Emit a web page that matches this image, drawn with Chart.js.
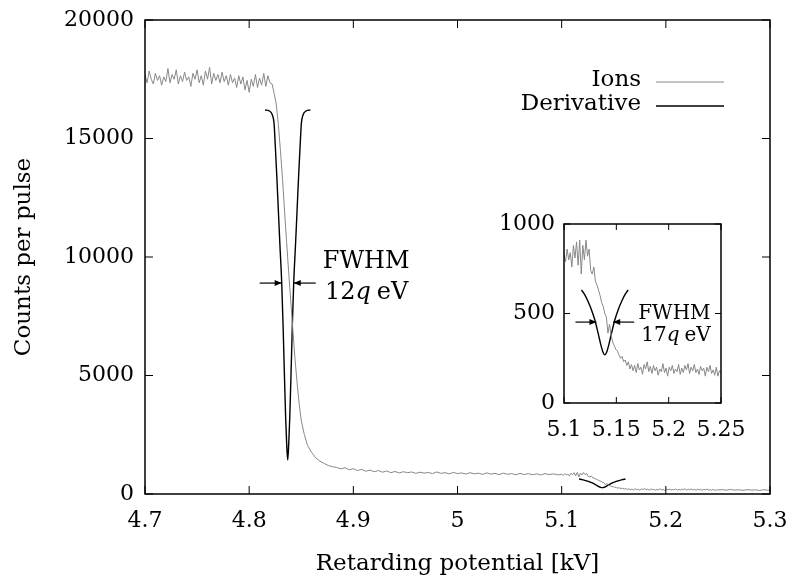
<!DOCTYPE html>
<html><head><meta charset="utf-8">
<script src="https://cdn.jsdelivr.net/npm/chart.js@4.4.1/dist/chart.umd.min.js"></script>
<style>
html,body{margin:0;padding:0;background:#fff;}
#wrap{position:relative;width:793px;height:578px;overflow:hidden;}
#main{position:absolute;left:0;top:0;}
#inset{position:absolute;left:471px;top:204px;}
</style></head><body>
<div id="wrap"><canvas id="main" width="793" height="578"></canvas><canvas id="inset" width="300" height="245"></canvas></div>
<script>
const FONT = "'DejaVu Serif', serif";

// ---- tick labels ----
const xTicksMain = [4.7, 4.8, 4.9, 5, 5.1, 5.2, 5.3];
const yTicksMain = [0, 5000, 10000, 15000, 20000];
const xTicksInset = [5.1, 5.15, 5.2, 5.25];
const yTicksInset = [0, 500, 1000];

// ---- Ions (retarding potential kV, counts per pulse) ----
const ionsKV = [
4.700,4.702,4.704,4.706,4.708,4.710,4.712,4.714,4.716,4.718,4.720,4.722,4.724,4.726,4.728,4.730,4.732,4.734,4.736,4.738,
4.740,4.742,4.744,4.746,4.748,4.750,4.752,4.754,4.756,4.758,4.760,4.762,4.764,4.766,4.768,4.770,4.772,4.774,4.776,4.778,
4.780,4.782,4.784,4.786,4.788,4.790,4.792,4.794,4.796,4.798,4.800,4.802,4.804,4.806,4.808,4.810,4.812,4.814,4.816,4.818,
4.820,4.822,
4.824,4.826,4.828,4.830,4.832,4.834,4.836,4.838,4.840,4.842,4.844,4.846,4.848,4.850,4.853,4.856,4.860,4.864,4.868,4.872,
4.876,4.880,
4.884,4.888,4.892,4.896,4.900,4.904,4.908,4.912,4.916,4.920,4.924,4.928,4.932,4.936,4.940,4.944,4.948,4.952,4.956,4.960,
4.964,4.968,4.972,4.976,4.980,4.984,4.988,4.992,4.996,5.000,5.004,5.008,5.012,5.016,5.020,5.024,5.028,5.032,5.036,5.040,
5.044,5.048,5.052,5.056,5.060,5.064,5.068,5.072,5.076,5.080,5.084,5.088,5.092,5.096,
5.1000,5.1015,5.1030,5.1045,5.1060,5.1075,5.1090,5.1105,5.1120,5.1135,5.1150,5.1165,5.1180,5.1195,5.1210,5.1225,5.1240,5.1255,5.1270,5.1285,
5.1300,5.1315,5.1330,5.1345,5.1360,5.1375,5.1390,5.1405,5.1420,5.1435,5.1450,5.1465,5.1480,5.1495,5.1510,5.1525,5.1540,5.1555,5.1570,5.1585,
5.1600,5.1615,5.1630,5.1645,5.1660,5.1675,5.1690,5.1705,5.1720,5.1735,5.1750,5.1765,5.1780,5.1795,5.1810,5.1825,5.1840,5.1855,5.1870,5.1885,
5.1900,5.1915,5.1930,5.1945,5.1960,5.1975,5.1990,5.2005,5.2020,5.2035,5.2050,5.2065,5.2080,5.2095,5.2110,5.2125,5.2140,5.2155,5.2170,5.2185,
5.2200,5.2215,5.2230,5.2245,5.2260,5.2275,5.2290,5.2305,5.2320,5.2335,5.2350,5.2365,5.2380,5.2395,5.2410,5.2425,5.2440,5.2455,5.2470,5.2485,
5.2500,
5.254,5.258,5.262,5.266,5.270,5.274,5.278,5.282,5.286,5.290,5.294,5.298,5.300
];
const ionsCounts = [
17700,17350,17850,17500,17300,17750,17450,17650,17250,17600,17400,17950,17350,17700,17500,17900,17300,17650,17400,17800,
17450,17600,17200,17750,17500,17900,17350,17650,17250,17850,17500,18000,17300,17750,17450,17700,17350,17800,17400,17650,
17250,17700,17350,17550,17150,17650,17300,17600,17050,17450,16950,17500,17200,17700,17150,17550,17250,17750,17200,17650,
17350,17300,
16900,16450,15600,14500,13300,11900,10600,9300,8100,6900,5700,4700,3800,3100,2500,2050,1750,1520,1380,1290,
1200,1150,
1120,1060,1110,1020,1070,990,1040,960,1010,940,990,920,970,900,950,890,940,900,930,870,
920,880,910,860,930,870,900,850,910,860,890,840,900,850,880,830,890,840,870,820,
880,830,860,810,870,820,860,810,850,800,860,820,850,810,
830,790,860,800,840,760,880,810,900,770,910,720,880,800,910,820,860,740,720,760,
680,660,630,600,560,540,500,480,390,440,380,340,320,300,290,270,250,260,230,240,
210,230,190,215,180,210,170,220,185,200,160,215,190,230,175,205,165,210,180,200,
155,190,175,220,170,195,150,200,180,210,165,190,175,215,160,195,170,210,185,220,
165,200,180,215,170,190,160,205,180,195,150,200,175,210,165,185,155,200,150,180,
165,
185,160,190,165,180,155,185,165,175,150,180,160,170
];

// ---- Derivative (main dip) ----
const derivKV = [4.8152,4.8194,4.8223,4.8239,4.8248,4.8264,4.8280,4.8296,4.8312,4.8325,4.8338,4.8350,4.8360,4.8370,
                 4.8380,4.8390,4.8402,4.8415,4.8428,4.8444,4.8460,4.8476,4.8492,4.8501,4.8517,4.8546,4.8588];
const derivVal = [16202,16160,15991,15640,14936,13530,11983,10435,8959,7201,5091,3262,2137,1434,
                  2137,3262,5091,7201,8959,10435,11983,13530,14936,15640,15991,16160,16202];
// ---- Derivative (second, small dip) ----
const deriv2KV = [5.1167,5.1199,5.1230,5.1263,5.1294,5.1326,5.1352,5.1374,5.1390,5.1406,5.1428,5.1454,5.1486,5.1517,5.1550,5.1581,5.1613];
const deriv2Val = [632,604,567,520,465,390,325,282,269,282,325,390,465,520,567,604,632];

// ---- FWHM annotations (data coordinates) ----
const fwhmMain = {left: 4.8312, right: 4.8428, level: 8900, line1: 'FWHM', pre: '12', q: 'q', post: '\u2009eV'};
const fwhmInset = {left: 5.131, right: 5.147, level: 452, line1: 'FWHM', pre: '17', q: 'q', post: '\u2009eV'};

const toPts = (xs, ys) => xs.map((x, i) => ({x: x, y: ys[i]}));
const GRAY = '#888888';

function frameTicks(xt, yt, len, lw) {
  return {
    id: 'frameTicks',
    afterDatasetsDraw(chart) {
      const {ctx, chartArea: a, scales: {x, y}} = chart;
      ctx.save();
      ctx.strokeStyle = '#000';
      ctx.lineWidth = 1;
      ctx.beginPath();
      xt.forEach(v => { const p = x.getPixelForValue(v);
        ctx.moveTo(p, a.bottom); ctx.lineTo(p, a.bottom - len);
        ctx.moveTo(p, a.top); ctx.lineTo(p, a.top + len); });
      yt.forEach(v => { const p = y.getPixelForValue(v);
        ctx.moveTo(a.left, p); ctx.lineTo(a.left + len, p);
        ctx.moveTo(a.right, p); ctx.lineTo(a.right - len, p); });
      ctx.stroke();
      ctx.lineWidth = lw;
      ctx.strokeRect(a.left, a.top, a.right - a.left, a.bottom - a.top);
      ctx.restore();
    }
  };
}

function arrow(ctx, fromX, toX, y) {
  ctx.beginPath(); ctx.moveTo(fromX, y); ctx.lineTo(toX, y); ctx.stroke();
  const d = Math.sign(toX - fromX);
  ctx.beginPath(); ctx.moveTo(toX, y); ctx.lineTo(toX - d * 7, y - 3); ctx.lineTo(toX - d * 7, y + 3); ctx.closePath(); ctx.fill();
}

function fwhmPlugin(f, opt) {
  return {
    id: 'fwhm',
    afterDatasetsDraw(chart) {
      const {ctx, scales: {x, y}} = chart;
      const xl = x.getPixelForValue(f.left), xr = x.getPixelForValue(f.right), yy = y.getPixelForValue(f.level);
      ctx.save();
      ctx.strokeStyle = '#000'; ctx.fillStyle = '#000'; ctx.lineWidth = 1.2;
      arrow(ctx, xl - opt.arrowLen, xl, yy);
      arrow(ctx, xr + opt.arrowLen, xr, yy);
      ctx.textBaseline = 'middle'; ctx.textAlign = 'left';
      const tx = xr + opt.textGap;
      ctx.font = `${opt.size}px ${FONT}`;
      const w1 = ctx.measureText(f.line1).width;
      ctx.fillText(f.line1, tx, yy + opt.dy1);
      const nf = `${opt.size}px ${FONT}`, itf = `italic ${opt.size}px ${FONT}`;
      ctx.font = nf; const wa = ctx.measureText(f.pre).width; const wc = ctx.measureText(f.post).width;
      ctx.font = itf; const wb = ctx.measureText(f.q).width;
      let sx = opt.center ? tx + (w1 - (wa + wb + wc)) / 2 : tx + opt.indent;
      const y2 = yy + opt.dy2;
      ctx.font = nf; ctx.fillText(f.pre, sx, y2); sx += wa;
      ctx.font = itf; ctx.fillText(f.q, sx, y2); sx += wb + 1;
      ctx.font = nf; ctx.fillText(f.post, sx, y2);
      ctx.restore();
    }
  };
}

const legendPlugin = {
  id: 'legendDraw',
  afterDatasetsDraw(chart) {
    const {ctx} = chart;
    const rows = [{i: 0, y: 82}, {i: 1, y: 106}];
    ctx.save();
    ctx.font = `23px ${FONT}`; ctx.textAlign = 'right'; ctx.textBaseline = 'middle'; ctx.fillStyle = '#000';
    rows.forEach(r => {
      const ds = chart.data.datasets[r.i];
      ctx.fillText(ds.label, 641, r.y - 2);
      ctx.strokeStyle = ds.borderColor; ctx.lineWidth = ds.borderWidth;
      ctx.beginPath(); ctx.moveTo(656, r.y); ctx.lineTo(724, r.y); ctx.stroke();
    });
    ctx.restore();
  }
};

// scale label overflow must not push the plotting area inwards
const noOverflowX = s => { s.paddingLeft = 0; s.paddingRight = 0; };
const noOverflowY = s => { s.paddingTop = 0; s.paddingBottom = 0; };

// Fit the plotting area onto a target rectangle (adjusting only outer padding / axis band sizes).
function fitArea(chart, L, T) {
  for (let i = 0; i < 6; i++) {
    const a = chart.chartArea;
    const dT = T.top - a.top, dR = a.right - T.right, dB = a.bottom - T.bottom, dL = T.left - a.left;
    if (Math.abs(dT) < 0.5 && Math.abs(dR) < 0.5 && Math.abs(dB) < 0.5 && Math.abs(dL) < 0.5) break;
    L.padTop += dT; L.padRight += dR; L.xH += dB; L.yW += dL;
    chart.options.layout.padding = {left: 0, right: L.padRight, top: L.padTop, bottom: 0};
    chart.update('none');
  }
}

const tickFont = {family: FONT, size: 22};
const mainL = {padTop: 20, padRight: 23, xH: 84, yW: 145};
const insetL = {padTop: 20, padRight: 50, xH: 42, yW: 93};

const mainChart = new Chart(document.getElementById('main'), {
  type: 'line',
  data: {datasets: [
    {label: 'Ions', data: toPts(ionsKV, ionsCounts), borderColor: GRAY, borderWidth: 1, pointRadius: 0, tension: 0},
    {label: 'Derivative', data: toPts(derivKV, derivVal), borderColor: '#000', borderWidth: 1.4, pointRadius: 0, cubicInterpolationMode: 'monotone'},
    {label: 'Derivative', data: toPts(deriv2KV, deriv2Val), borderColor: '#000', borderWidth: 1.4, pointRadius: 0, cubicInterpolationMode: 'monotone'}
  ]},
  options: {
    responsive: false, animation: false, devicePixelRatio: 1,
    layout: {padding: {left: 0, right: mainL.padRight, top: mainL.padTop, bottom: 0}},
    plugins: {legend: {display: false}, tooltip: {enabled: false}},
    scales: {
      x: {type: 'linear', min: 4.7, max: 5.3,
        afterBuildTicks: s => { s.ticks = xTicksMain.map(v => ({value: v})); },
        afterFit: s => { s.height = mainL.xH; noOverflowX(s); },
        grid: {display: false, drawTicks: false}, border: {display: false},
        ticks: {color: '#000', font: tickFont, padding: 14, maxRotation: 0, autoSkip: false, callback: v => String(v)},
        title: {display: true, text: 'Retarding potential [kV]', color: '#000', font: {family: FONT, size: 23}, padding: {top: 0, bottom: 0}}},
      y: {type: 'linear', min: 0, max: 20000,
        afterBuildTicks: s => { s.ticks = yTicksMain.map(v => ({value: v})); },
        afterFit: s => { s.width = mainL.yW; noOverflowY(s); },
        grid: {display: false, drawTicks: false}, border: {display: false},
        ticks: {color: '#000', font: tickFont, padding: 11, callback: v => String(v)},
        title: {display: true, text: 'Counts per pulse', color: '#000', font: {family: FONT, size: 23}, padding: {top: 10, bottom: 0}}}
    }
  },
  plugins: [frameTicks(xTicksMain, yTicksMain, 8, 1.5), legendPlugin,
            fwhmPlugin(fwhmMain, {arrowLen: 22, textGap: 29, size: 24, dy1: -21, dy2: 10, center: true})]
});
fitArea(mainChart, mainL, {left: 145, top: 20, right: 770, bottom: 494});

const insetChart = new Chart(document.getElementById('inset'), {
  type: 'line',
  data: {datasets: [
    {label: 'Ions', data: toPts(ionsKV, ionsCounts), borderColor: GRAY, borderWidth: 1, pointRadius: 0, tension: 0},
    {label: 'Derivative', data: toPts(deriv2KV, deriv2Val), borderColor: '#000', borderWidth: 1.4, pointRadius: 0, cubicInterpolationMode: 'monotone'}
  ]},
  options: {
    responsive: false, animation: false, devicePixelRatio: 1,
    layout: {padding: {left: 0, right: insetL.padRight, top: insetL.padTop, bottom: 0}},
    plugins: {legend: {display: false}, tooltip: {enabled: false}},
    scales: {
      x: {type: 'linear', min: 5.1, max: 5.25,
        afterBuildTicks: s => { s.ticks = xTicksInset.map(v => ({value: v})); },
        afterFit: s => { s.height = insetL.xH; noOverflowX(s); },
        grid: {display: false, drawTicks: false}, border: {display: false},
        ticks: {color: '#000', font: tickFont, padding: 14, maxRotation: 0, autoSkip: false, callback: v => String(v)}},
      y: {type: 'linear', min: 0, max: 1000,
        afterBuildTicks: s => { s.ticks = yTicksInset.map(v => ({value: v})); },
        afterFit: s => { s.width = insetL.yW; noOverflowY(s); },
        grid: {display: false, drawTicks: false}, border: {display: false},
        ticks: {color: '#000', font: tickFont, padding: 9, callback: v => String(v)}}
    }
  },
  plugins: [frameTicks(xTicksInset, yTicksInset, 6, 1.5),
            fwhmPlugin(fwhmInset, {arrowLen: 21, textGap: 25, size: 20, dy1: -8, dy2: 14, center: false, indent: 3})]
});
// inset canvas sits at page (471, 204): target box 564..721 x 224..403 on the page
fitArea(insetChart, insetL, {left: 564 - 471, top: 224 - 204, right: 721 - 471, bottom: 403 - 204});
</script>
</body></html>
